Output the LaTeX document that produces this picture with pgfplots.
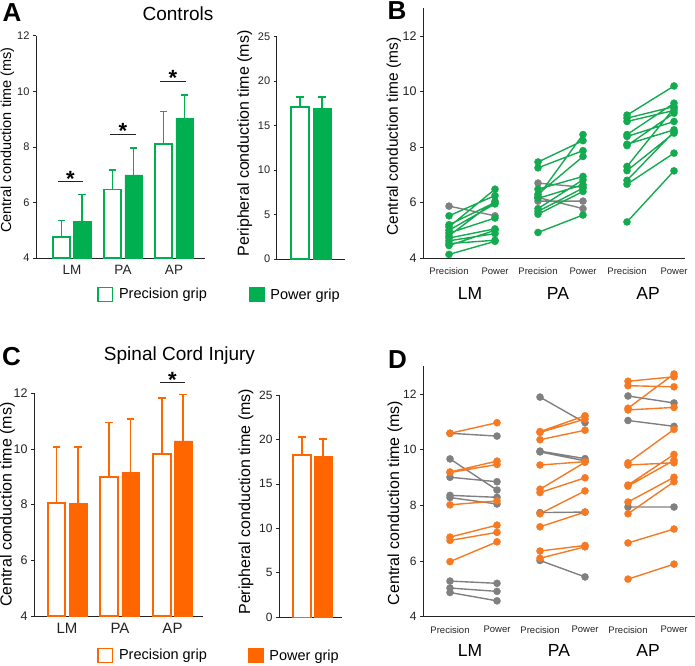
\documentclass[border=0pt]{standalone}
\usepackage{pgfplots}
\pgfplotsset{compat=1.18}
\usepackage{fontspec}
\setmainfont{Liberation Sans}
\definecolor{grn}{RGB}{0,176,80}
\definecolor{grnl}{RGB}{20,170,80}
\definecolor{org}{RGB}{255,102,0}
\definecolor{orgl}{RGB}{245,122,35}
\definecolor{gry}{RGB}{128,128,128}
\definecolor{axc}{RGB}{35,35,35}
\newcommand{\fs}[1]{\fontsize{#1}{#1}\selectfont}
\pgfplotsset{
  panel/.style={
    scale only axis, anchor=south west,
    axis lines*=left,
    axis line style={axc, line width=0.8pt},
    tick align=outside, major tick length=3pt,
    ytick style={axc, line width=0.7pt},
    xtick style={draw=none},
    /pgf/number format/assume math mode=true,
    tick label style={text=axc},
    unbounded coords=jump,
  },
  openbar/.style={ybar, bar width=17.5pt, bar shift=0pt, draw=#1, fill=white, line width=1.6pt},
  fullbar/.style={ybar, bar width=17.5pt, bar shift=0pt, draw=#1, fill=#1, line width=0.5pt},
  errbar/.style={draw=#1, line width=1.7pt, forget plot, line cap=butt},
  pair/.style={draw=#1, line width=1.4pt, mark=*, mark size=3.6pt,
     mark options={fill=#1, draw=#1, line width=0.3pt, solid}},
}
\begin{document}
\begin{tikzpicture}
\useasboundingbox (0,0) rectangle (695pt,665pt);

% ---------------- Panel A: central ----------------
\begin{axis}[panel, at={(36pt,407pt)}, width=169pt, height=222.3pt,
  xmin=36, xmax=205, ymin=4, ymax=12,
  ytick={4,6,8,10,12}, xtick={72,123,174}, xticklabels={LM,PA,AP},
  y tick label style={font=\fs{11}},
  x tick label style={font=\fs{13.5}, yshift=-1pt},
  ylabel={Central conduction time (ms)},
  ylabel style={font=\fs{14.5}, at={(axis description cs:-0.169,0.53)}, anchor=center},
  legend style={at={(axis description cs:0.361,-0.164)}, anchor=west, draw=none, fill=none, font=\fs{14.5}, inner sep=0pt},
]
\addplot[openbar=grn, legend image code/.code={\draw[grn, fill=white, line width=1.6pt] (0.8pt,-7pt) rectangle (15.2pt,7pt); \path (19pt,0pt);}]
  coordinates {(61.5,4.75) (112.5,6.46) (163.5,8.11)};
\addlegendentry{Precision grip}
\addplot[fullbar=grn, forget plot]
  coordinates {(82,5.32) (133.5,6.99) (184.5,9.03)};
% error bars (upper SD)
\addplot[errbar=grn] coordinates {
 (61.5,4.75) (61.5,5.35) (0,nan) (57.8,5.35) (65.2,5.35) (0,nan)
 (82,5.32) (82,6.28) (0,nan) (78.3,6.28) (85.7,6.28) (0,nan)
 (112.5,6.46) (112.5,7.17) (0,nan) (108.8,7.17) (116.2,7.17) (0,nan)
 (133.5,6.99) (133.5,7.95) (0,nan) (129.8,7.95) (137.2,7.95) (0,nan)
 (163.5,8.11) (163.5,9.27) (0,nan) (159.8,9.27) (167.2,9.27) (0,nan)
 (184.5,9.03) (184.5,9.87) (0,nan) (180.8,9.87) (188.2,9.87)};
\draw[axc, line width=0.9pt] (58,6.74) -- (83,6.74);
\draw[axc, line width=0.9pt] (110,8.46) -- (136,8.46);
\draw[axc, line width=0.9pt] (160,10.37) -- (186,10.37);
\node[font=\bfseries\fs{22}, anchor=base, yshift=-4.5pt] at (70.5,6.74) {*};
\node[font=\bfseries\fs{22}, anchor=base, yshift=-4.5pt] at (123,8.46) {*};
\node[font=\bfseries\fs{22}, anchor=base, yshift=-4.5pt] at (173,10.37) {*};
\end{axis}

% ---------------- Panel A: peripheral ----------------
\begin{axis}[panel, at={(276.7pt,406pt)}, width=68pt, height=222.3pt,
  xmin=276.7, xmax=344.7, ymin=0, ymax=25,
  ytick={0,5,10,15,20,25}, xtick=\empty,
  y tick label style={font=\fs{11}},
  ylabel={Peripheral conduction time (ms)},
  ylabel style={font=\fs{16}, at={(axis description cs:-0.47,0.52)}, anchor=center},
  legend style={at={(axis description cs:-0.407,-0.16)}, anchor=west, draw=none, fill=none, font=\fs{14.5}, inner sep=0pt},
]
\addplot[openbar=grn, forget plot] coordinates {(300,17.07)};
\addplot[fullbar=grn, legend image code/.code={\draw[grn, fill=grn, line width=1.6pt] (0.8pt,-7pt) rectangle (15.2pt,7pt); \path (19pt,0pt);}]
  coordinates {(322,16.96)};
\addlegendentry{Power grip}
\addplot[errbar=grn] coordinates {
 (300,17.07) (300,18.19) (0,nan) (296.3,18.19) (303.7,18.19) (0,nan)
 (322,16.96) (322,18.19) (0,nan) (318.3,18.19) (325.7,18.19)};
\end{axis}

% ---------------- Panel B ----------------
\begin{axis}[panel, at={(423pt,407pt)}, width=262pt, height=249.7pt,
  xmin=423, xmax=685, ymin=4, ymax=13, clip=false,
  ytick={4,6,8,10,12},
  xtick={449,495,538,583,627,674},
  xticklabels={Precision,Power,Precision,Power,Precision,Power},
  y tick label style={font=\fs{12.5}},
  x tick label style={font=\fs{9.5}, yshift=-3pt},
  ylabel={Central conduction time (ms)},
  ylabel style={font=\fs{15.5}, at={(axis description cs:-0.111,0.486)}, anchor=center},
]
\addplot[pair=gry] coordinates {
 (449,5.87) (495,5.52) (472,nan)
 (538,6.70) (583,6.55) (560,nan)
 (538,6.18) (583,5.78) (560,nan)
 (538,6.05) (583,6.05)};
\addplot[pair=grnl] coordinates {
 (449,5.52) (495,6.25) (472,nan)
 (449,5.20) (495,6.00) (472,nan)
 (449,5.12) (495,6.48) (472,nan)
 (449,5.00) (495,5.95) (472,nan)
 (449,4.90) (495,5.44) (472,nan)
 (449,4.80) (495,6.05) (472,nan)
 (449,4.72) (495,5.05) (472,nan)
 (449,4.62) (495,4.88) (472,nan)
 (449,4.52) (495,4.64) (472,nan)
 (449,4.45) (495,5.00) (472,nan)
 (449,4.13) (495,4.60) (472,nan)
 (538,7.46) (583,8.23) (560,nan)
 (538,7.25) (583,7.87) (560,nan)
 (538,6.48) (583,6.94) (560,nan)
 (538,6.22) (583,8.45) (560,nan)
 (538,6.15) (583,6.64) (560,nan)
 (538,5.78) (583,6.82) (560,nan)
 (538,5.68) (583,6.52) (560,nan)
 (538,5.58) (583,6.40) (560,nan)
 (538,4.92) (583,5.55) (560,nan)
 (538,6.30) (583,7.66) (560,nan)
 (627,9.15) (674,10.20) (650,nan)
 (627,9.04) (674,9.46) (650,nan)
 (627,8.92) (674,9.32) (650,nan)
 (627,8.45) (674,9.58) (650,nan)
 (627,8.38) (674,8.92) (650,nan)
 (627,8.10) (674,8.62) (650,nan)
 (627,8.05) (674,9.22) (650,nan)
 (627,7.30) (674,9.40) (650,nan)
 (627,7.15) (674,8.50) (650,nan)
 (627,6.80) (674,8.55) (650,nan)
 (627,6.66) (674,7.78) (650,nan)
 (627,5.30) (674,7.14)};
\node[font=\fs{17.5}] at (470,4) [yshift=-35.5pt] {LM};
\node[font=\fs{17.5}] at (558,4) [yshift=-35.5pt] {PA};
\node[font=\fs{17.5}] at (648,4) [yshift=-35.5pt] {AP};
\end{axis}

% ---------------- Panel C: central ----------------
\begin{axis}[panel, at={(34pt,49pt)}, width=169pt, height=222.7pt,
  xmin=34, xmax=203, ymin=4, ymax=12,
  ytick={4,6,8,10,12}, xtick={67,120,172.5}, xticklabels={LM,PA,AP},
  y tick label style={font=\fs{12.5}},
  x tick label style={font=\fs{15}, yshift=-1pt},
  ylabel={Central conduction time (ms)},
  ylabel style={font=\fs{16}, at={(axis description cs:-0.157,0.5)}, anchor=center},
  legend style={at={(axis description cs:0.373,-0.177)}, anchor=west, draw=none, fill=none, font=\fs{14.5}, inner sep=0pt},
]
\addplot[openbar=org, legend image code/.code={\draw[org, fill=white, line width=1.6pt] (0.8pt,-7pt) rectangle (15.2pt,7pt); \path (19pt,0pt);}]
  coordinates {(56.5,8.05) (109,9.00) (162,9.82)};
\addlegendentry{Precision grip}
\addplot[fullbar=org, forget plot]
  coordinates {(78,8.05) (130.5,9.15) (183,10.29)};
\addplot[errbar=org] coordinates {
 (56.5,8.05) (56.5,10.08) (0,nan) (52.8,10.08) (60.2,10.08) (0,nan)
 (78,8.05) (78,10.08) (0,nan) (74.3,10.08) (81.7,10.08) (0,nan)
 (109,9.00) (109,10.95) (0,nan) (105.3,10.95) (112.7,10.95) (0,nan)
 (130.5,9.15) (130.5,11.07) (0,nan) (126.8,11.07) (134.2,11.07) (0,nan)
 (162,9.82) (162,11.84) (0,nan) (158.3,11.84) (165.7,11.84) (0,nan)
 (183,10.29) (183,11.96) (0,nan) (179.3,11.96) (186.7,11.96)};
\coordinate (cl) at (160,12.39);
\coordinate (cr) at (185,12.39);
\coordinate (cs) at (172.5,12.39);
\end{axis}
\draw[axc, line width=0.9pt] (cl) -- (cr);
\node[font=\bfseries\fs{22}, anchor=base, yshift=-5.5pt] at (cs) {*};

% ---------------- Panel C: peripheral ----------------
\begin{axis}[panel, at={(279pt,47.7pt)}, width=63pt, height=222.3pt,
  xmin=279, xmax=342, ymin=0, ymax=25,
  ytick={0,5,10,15,20,25}, xtick=\empty,
  y tick label style={font=\fs{12}},
  ylabel={Peripheral conduction time (ms)},
  ylabel style={font=\fs{16}, at={(axis description cs:-0.524,0.52)}, anchor=center},
  legend style={at={(axis description cs:-0.492,-0.172)}, anchor=west, draw=none, fill=none, font=\fs{14.5}, inner sep=0pt},
]
\addplot[openbar=org, forget plot] coordinates {(302,18.25)};
\addplot[fullbar=org, legend image code/.code={\draw[org, fill=org, line width=1.6pt] (0.8pt,-7pt) rectangle (15.2pt,7pt); \path (19pt,0pt);}]
  coordinates {(323,18.14)};
\addlegendentry{Power grip}
\addplot[errbar=org] coordinates {
 (302,18.25) (302,20.24) (0,nan) (298.3,20.24) (305.7,20.24) (0,nan)
 (323,18.14) (323,20.05) (0,nan) (319.3,20.05) (326.7,20.05)};
\end{axis}

% ---------------- Panel D ----------------
\begin{axis}[panel, at={(423pt,48.3pt)}, width=272pt, height=250.5pt,
  xmin=423, xmax=695, ymin=4, ymax=13, clip=false,
  ytick={4,6,8,10,12},
  xtick={450,497,540,585,628,674},
  xticklabels={Precision,Power,Precision,Power,Precision,Power},
  y tick label style={font=\fs{12}},
  x tick label style={font=\fs{9.5}, yshift=-3pt},
  ylabel={Central conduction time (ms)},
  ylabel style={font=\fs{16}, at={(axis description cs:-0.103,0.454)}, anchor=center},
]
\addplot[pair=gry] coordinates {
 (450,10.59) (497,10.49) (473,nan)
 (450,9.67) (497,8.55) (473,nan)
 (450,9.01) (497,8.85) (473,nan)
 (450,8.36) (497,8.29) (473,nan)
 (450,8.28) (497,8.05) (473,nan)
 (450,5.28) (497,5.20) (473,nan)
 (450,5.03) (497,4.91) (473,nan)
 (450,4.87) (497,4.57) (473,nan)
 (540,11.89) (585,10.97) (562,nan)
 (540,9.95) (585,9.68) (562,nan)
 (540,9.92) (585,9.60) (562,nan)
 (540,7.74) (585,7.76) (562,nan)
 (540,6.02) (585,5.43) (562,nan)
 (628,11.93) (674,11.68) (650,nan)
 (628,11.05) (674,10.84) (650,nan)
 (628,7.94) (674,7.94)};
\addplot[pair=orgl] coordinates {
 (450,10.59) (497,10.97) (473,nan)
 (450,9.20) (497,9.59) (473,nan)
 (450,9.18) (497,9.47) (473,nan)
 (450,8.02) (497,8.16) (473,nan)
 (450,6.86) (497,7.29) (473,nan)
 (450,6.74) (497,7.03) (473,nan)
 (450,5.98) (497,6.69) (473,nan)
 (540,10.65) (585,11.22) (562,nan)
 (540,10.62) (585,11.10) (562,nan)
 (540,10.36) (585,10.70) (562,nan)
 (540,9.45) (585,9.57) (562,nan)
 (540,8.58) (585,9.55) (562,nan)
 (540,8.46) (585,8.99) (562,nan)
 (540,7.70) (585,8.52) (562,nan)
 (540,7.23) (585,7.76) (562,nan)
 (540,6.36) (585,6.56) (562,nan)
 (540,6.10) (585,6.51) (562,nan)
 (628,12.46) (674,12.62) (650,nan)
 (628,12.30) (674,12.26) (650,nan)
 (628,11.49) (674,12.72) (650,nan)
 (628,11.43) (674,11.52) (650,nan)
 (628,9.53) (674,10.73) (650,nan)
 (628,9.45) (674,9.53) (650,nan)
 (628,8.73) (674,9.83) (650,nan)
 (628,8.69) (674,9.62) (650,nan)
 (628,8.12) (674,9.01) (650,nan)
 (628,7.70) (674,8.85) (650,nan)
 (628,6.65) (674,7.15) (650,nan)
 (628,5.35) (674,5.89)};
\node[font=\fs{17.5}] at (470,4) [yshift=-33.5pt] {LM};
\node[font=\fs{17.5}] at (559,4) [yshift=-33.5pt] {PA};
\node[font=\fs{17.5}] at (648,4) [yshift=-33.5pt] {AP};
\end{axis}

% ---------------- titles and panel letters ----------------
\node[font=\fs{19}, anchor=base] at (178pt,644.3pt) {Controls};
\node[font=\fs{19}, anchor=base] at (179.5pt,304.3pt) {Spinal Cord Injury};
\node[font=\bfseries\fs{26}] at (12pt,652.5pt) {A};
\node[font=\bfseries\fs{26}] at (397pt,654pt) {B};
\node[font=\bfseries\fs{26}] at (11.5pt,308.5pt) {C};
\node[font=\bfseries\fs{26}] at (397.5pt,305pt) {D};
\end{tikzpicture}
\end{document}
